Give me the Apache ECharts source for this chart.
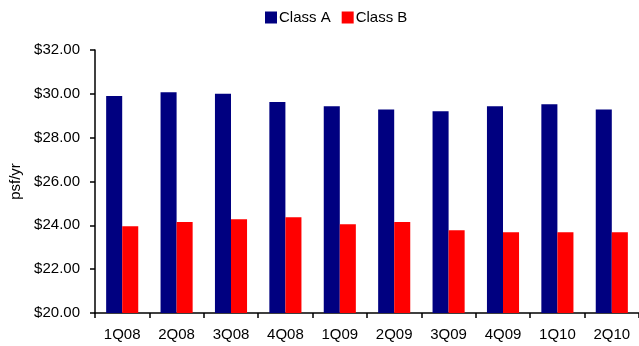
<!DOCTYPE html>
<html><head><meta charset="utf-8">
<script src="https://cdn.jsdelivr.net/npm/echarts@6/dist/echarts.min.js"></script>
<style>html,body{margin:0;padding:0;background:#fff}#c{width:639px;height:346px}</style>
</head><body><div id="c"></div>
<script>
const categories = ['1Q08','2Q08','3Q08','4Q08','1Q09','2Q09','3Q09','4Q09','1Q10','2Q10'];
const classA = [29.9, 30.07, 30.0, 29.63, 29.43, 29.29, 29.2, 29.43, 29.52, 29.29];
const classB = [23.96, 24.15, 24.28, 24.37, 24.05, 24.15, 23.78, 23.69, 23.69, 23.69];
const seriesNames = ['Class A', 'Class B'];
const yAxisName = 'psf/yr';

const chart = echarts.init(document.getElementById('c'), null, {renderer: 'canvas'});
const font = 'Liberation Sans, Arial, sans-serif';
chart.setOption({
  animation: false,
  textStyle: {fontFamily: font},
  legend: {
    top: 10, left: 265, padding: 0, itemWidth: 12, itemHeight: 12, itemGap: 11,
    icon: 'rect',
    textStyle: {fontSize: 15, color: '#000', fontFamily: font, padding: [0,0,0,-3]},
    data: seriesNames
  },
  grid: {left: 95, right: 0, top: 50, bottom: 33, containLabel: false},
  xAxis: {
    type: 'category', data: categories,
    axisLine: {lineStyle: {color: '#000', width: 1.5}},
    axisTick: {show: true, length: 5, lineStyle: {color: '#000', width: 1.5}},
    axisLabel: {color: '#000', fontSize: 15, fontFamily: font, margin: 14}
  },
  yAxis: {
    type: 'value', min: 20, max: 32, interval: 2,
    name: yAxisName, nameLocation: 'middle', nameGap: 69, nameRotate: 90,
    nameTextStyle: {color: '#000', fontSize: 15, fontFamily: font},
    axisLine: {show: true, lineStyle: {color: '#000', width: 1.5}},
    axisTick: {show: true, length: 5, lineStyle: {color: '#000', width: 1.5}},
    splitLine: {show: false},
    axisLabel: {color: '#000', fontSize: 15, fontFamily: font, margin: 15,
      formatter: v => '$' + v.toFixed(2)}
  },
  series: [
    {name: seriesNames[0], type: 'bar', data: classA, itemStyle: {color: '#000080'},
     barGap: '0%', barCategoryGap: '41%'},
    {name: seriesNames[1], type: 'bar', data: classB, itemStyle: {color: '#ff0000'},
     barGap: '0%', barCategoryGap: '41%'}
  ]
});
</script></body></html>
